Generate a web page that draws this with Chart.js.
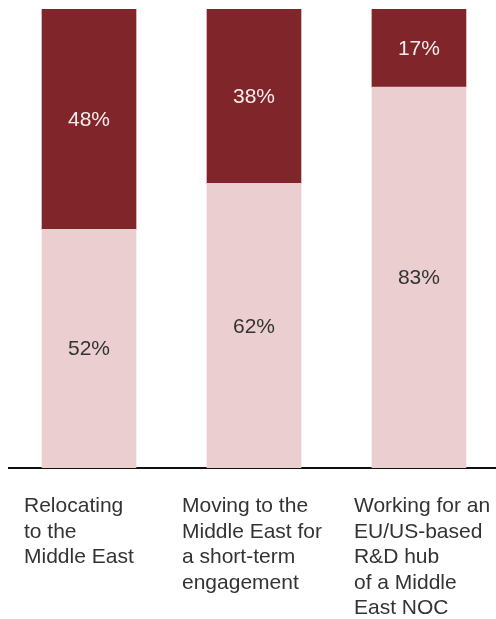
<!DOCTYPE html>
<html>
<head>
<meta charset="utf-8">
<script src="https://cdn.jsdelivr.net/npm/chart.js@4"></script>
<style>
  html, body { margin: 0; padding: 0; background: #fff; overflow: hidden; }
  #wrap { width: 496px; height: 619px; }
</style>
</head>
<body>
<div id="wrap"><canvas id="graph"></canvas></div>
<script>
// categories and shares (percent)
let categories = [
  ["Relocating", "to the", "Middle East"],
  ["Moving to the", "Middle East for", "a short-term", "engagement"],
  ["Working for an", "EU/US-based", "R&D hub", "of a Middle", "East NOC"],
];
let yesShare = [52, 62, 83];
let noShare = [48, 38, 17];

const FONT = "'Liberation Sans', Arial, Helvetica, sans-serif";
const TEXT = "#333333";

// percentage text in the middle of every segment
const segmentLabels = {
  id: "segmentLabels",
  afterDatasetsDraw(chart) {
    const ctx = chart.ctx;
    ctx.save();
    ctx.font = "21px " + FONT;
    ctx.textAlign = "center";
    ctx.textBaseline = "middle";
    chart.data.datasets.forEach((ds, di) => {
      chart.getDatasetMeta(di).data.forEach((bar, i) => {
        ctx.fillStyle = ds.labelColor;
        ctx.fillText(ds.data[i].y + "%", bar.x, (bar.y + bar.base) / 2 + 1);
      });
    });
    ctx.restore();
  },
};

// multi-line category names under the axis, left aligned
const categoryLabels = {
  id: "categoryLabels",
  afterDraw(chart) {
    const ctx = chart.ctx;
    const x = chart.scales.x;
    const shift = [-65, -72, -65];
    ctx.save();
    ctx.font = "21px " + FONT;
    ctx.fillStyle = TEXT;
    ctx.textAlign = "left";
    ctx.textBaseline = "alphabetic";
    categories.forEach((lines, i) => {
      let px = x.getPixelForValue(i) + shift[i];
      lines.forEach((line, j) => {
        ctx.fillText(line, px, 512 + j * 25.5);
      });
    });
    ctx.restore();
  },
};

const data = {
  datasets: [
    {
      label: "yes",
      data: yesShare.map((v, i) => ({ x: i, y: v })),
      backgroundColor: "#ebcfd0",
      labelColor: TEXT,
      barThickness: 94,
    },
    {
      label: "no",
      data: noShare.map((v, i) => ({ x: i, y: v })),
      backgroundColor: "#80252a",
      labelColor: "#f6ecec",
      barThickness: 94,
    },
  ],
};

new Chart(document.getElementById("graph"), {
  type: "bar",
  data: data,
  plugins: [segmentLabels, categoryLabels],
  options: {
    responsive: true,
    maintainAspectRatio: false,
    animation: false,
    layout: { padding: { left: 9, right: 0, top: 9, bottom: 143 } },
    plugins: { legend: { display: false }, tooltip: { enabled: false } },
    scales: {
      x: {
        type: "linear",
        stacked: true,
        offset: false,
        min: -0.485,
        max: 2.467,
        grid: { display: false },
        border: { display: true, color: "#111111", width: 2 },
        ticks: { display: false },
      },
      y: {
        stacked: true,
        min: 0,
        max: 100,
        display: false,
      },
    },
  },
});
</script>
</body>
</html>
